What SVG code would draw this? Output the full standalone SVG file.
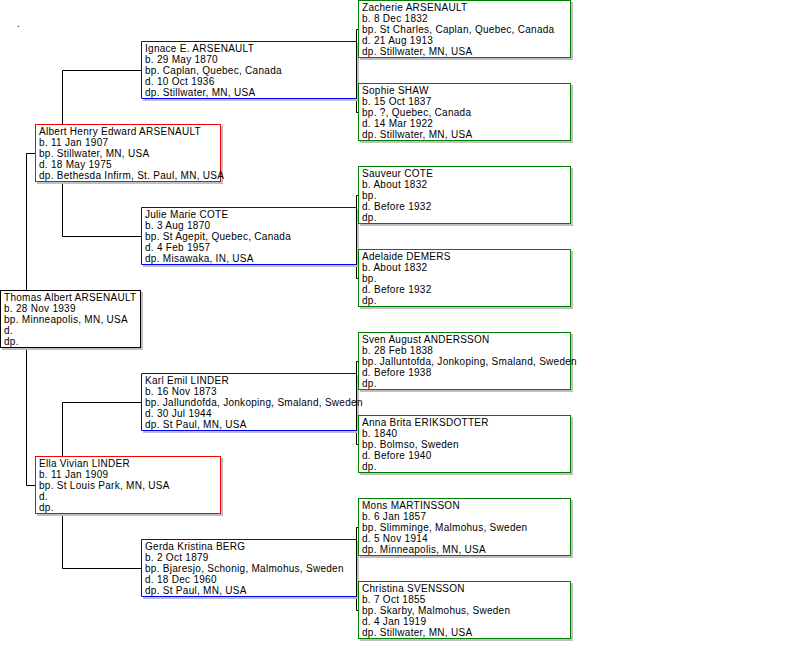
<svg xmlns="http://www.w3.org/2000/svg" width="800" height="660" viewBox="0 0 800 660">
<style>
  text { font-family: "Liberation Sans", Arial, sans-serif; font-size: 10px; letter-spacing: 0.28px; fill: #000; }
  .sh { fill: #c0c0c0; stroke: none; }
  .bg { fill: #fff; stroke: none; }
  .root { fill: #fff; stroke: #000; stroke-width: 1; }
  .g1 { fill: #fff; stroke: #ff0000; stroke-width: 1; }
  .g2 { fill: none; stroke: #0000ff; stroke-width: 1; }
  .g3 { fill: #fff; stroke: #008000; stroke-width: 1; }
  .conn { fill: none; stroke: #000; stroke-width: 1; }
</style>
<rect x="0" y="0" width="800" height="660" fill="#fff"/>
<text x="17" y="26.5">.</text>

<g id="connectors">
  <path class="conn" d="M35,153.5 H26.5 V485.5 H35"/>
  <path class="conn" d="M141,70.5 H62.5 V236.5 H141"/>
  <path class="conn" d="M141,402.5 H62.5 V568.5 H141"/>
  <path class="conn" d="M358,29.5 H356.5 V112.5 H358"/>
  <path class="conn" d="M358,195.5 H356.5 V278.5 H358"/>
  <path class="conn" d="M358,361.5 H356.5 V444.5 H358"/>
  <path class="conn" d="M358,527.5 H356.5 V610.5 H358"/>
</g>

<!-- Root -->
<g id="thomas">
  <polygon class="sh" points="141,292 143,292 143,350 2,350 2,348 141,348"/>
  <rect class="root" x="0.5" y="290.5" width="140" height="57"/>
  <text x="4"><tspan x="4" y="301">Thomas Albert ARSENAULT</tspan><tspan x="4" y="312">b. 28 Nov 1939</tspan><tspan x="4" y="323">bp. Minneapolis, MN, USA</tspan><tspan x="4" y="334">d.</tspan><tspan x="4" y="345">dp.</tspan></text>
</g>

<!-- Generation 1 -->
<g id="albert">
  <polygon class="sh" points="221,126 223,126 223,184 37,184 37,182 221,182"/>
  <rect class="g1" x="35.5" y="124.5" width="185" height="57"/>
  <text><tspan x="39" y="135">Albert Henry Edward ARSENAULT</tspan><tspan x="39" y="146">b. 11 Jan 1907</tspan><tspan x="39" y="157">bp. Stillwater, MN, USA</tspan><tspan x="39" y="168">d. 18 May 1975</tspan><tspan x="39" y="179">dp. Bethesda Infirm, St. Paul, MN, USA</tspan></text>
</g>
<g id="ella">
  <polygon class="sh" points="221,458 223,458 223,516 37,516 37,514 221,514"/>
  <rect class="g1" x="35.5" y="456.5" width="185" height="57"/>
  <text><tspan x="39" y="467">Ella Vivian LINDER</tspan><tspan x="39" y="478">b. 11 Jan 1909</tspan><tspan x="39" y="489">bp. St Louis Park, MN, USA</tspan><tspan x="39" y="500">d.</tspan><tspan x="39" y="511">dp.</tspan></text>
</g>

<!-- Generation 2 -->
<g id="ignace">
  <polygon class="sh" points="357,43 359,43 359,101 143,101 143,99 357,99"/>
  <rect class="bg" x="142" y="42" width="214" height="56"/>
  <path class="g2" d="M356,41.5 H141.5 V98.5 H356"/>
  <text><tspan x="145" y="52">Ignace E. ARSENAULT</tspan><tspan x="145" y="63">b. 29 May 1870</tspan><tspan x="145" y="74">bp. Caplan, Quebec, Canada</tspan><tspan x="145" y="85">d. 10 Oct 1936</tspan><tspan x="145" y="96">dp. Stillwater, MN, USA</tspan></text>
</g>
<g id="julie">
  <polygon class="sh" points="357,209 359,209 359,267 143,267 143,265 357,265"/>
  <rect class="bg" x="142" y="208" width="214" height="56"/>
  <path class="g2" d="M356,207.5 H141.5 V264.5 H356"/>
  <text><tspan x="145" y="218">Julie Marie COTE</tspan><tspan x="145" y="229">b. 3 Aug 1870</tspan><tspan x="145" y="240">bp. St Agepit, Quebec, Canada</tspan><tspan x="145" y="251">d. 4 Feb 1957</tspan><tspan x="145" y="262">dp. Misawaka, IN, USA</tspan></text>
</g>
<g id="karl">
  <polygon class="sh" points="357,375 359,375 359,433 143,433 143,431 357,431"/>
  <rect class="bg" x="142" y="374" width="214" height="56"/>
  <path class="g2" d="M356,373.5 H141.5 V430.5 H356"/>
  <text><tspan x="145" y="384">Karl Emil LINDER</tspan><tspan x="145" y="395">b. 16 Nov 1873</tspan><tspan x="145" y="406">bp. Jallundofda, Jonkoping, Smaland, Sweden</tspan><tspan x="145" y="417">d. 30 Jul 1944</tspan><tspan x="145" y="428">dp. St Paul, MN, USA</tspan></text>
</g>
<g id="gerda">
  <polygon class="sh" points="357,541 359,541 359,599 143,599 143,597 357,597"/>
  <rect class="bg" x="142" y="540" width="214" height="56"/>
  <path class="g2" d="M356,539.5 H141.5 V596.5 H356"/>
  <text><tspan x="145" y="550">Gerda Kristina BERG</tspan><tspan x="145" y="561">b. 2 Oct 1879</tspan><tspan x="145" y="572">bp. Bjaresjo, Schonig, Malmohus, Sweden</tspan><tspan x="145" y="583">d. 18 Dec 1960</tspan><tspan x="145" y="594">dp. St Paul, MN, USA</tspan></text>
</g>

<!-- Generation 3 -->
<g id="zacherie">
  <polygon class="sh" points="571,2 573,2 573,60 360,60 360,58 571,58"/>
  <rect class="g3" x="358.5" y="0.5" width="212" height="57"/>
  <text><tspan x="362" y="11">Zacherie ARSENAULT</tspan><tspan x="362" y="22">b. 8 Dec 1832</tspan><tspan x="362" y="33">bp. St Charles, Caplan, Quebec, Canada</tspan><tspan x="362" y="44">d. 21 Aug 1913</tspan><tspan x="362" y="55">dp. Stillwater, MN, USA</tspan></text>
</g>
<g id="sophie">
  <polygon class="sh" points="571,85 573,85 573,143 360,143 360,141 571,141"/>
  <rect class="g3" x="358.5" y="83.5" width="212" height="57"/>
  <text><tspan x="362" y="94">Sophie SHAW</tspan><tspan x="362" y="105">b. 15 Oct 1837</tspan><tspan x="362" y="116">bp. ?, Quebec, Canada</tspan><tspan x="362" y="127">d. 14 Mar 1922</tspan><tspan x="362" y="138">dp. Stillwater, MN, USA</tspan></text>
</g>
<g id="sauveur">
  <polygon class="sh" points="571,168 573,168 573,226 360,226 360,224 571,224"/>
  <rect class="g3" x="358.5" y="166.5" width="212" height="57"/>
  <text><tspan x="362" y="177">Sauveur COTE</tspan><tspan x="362" y="188">b. About 1832</tspan><tspan x="362" y="199">bp.</tspan><tspan x="362" y="210">d. Before 1932</tspan><tspan x="362" y="221">dp.</tspan></text>
</g>
<g id="adelaide">
  <polygon class="sh" points="571,251 573,251 573,309 360,309 360,307 571,307"/>
  <rect class="g3" x="358.5" y="249.5" width="212" height="57"/>
  <text><tspan x="362" y="260">Adelaide DEMERS</tspan><tspan x="362" y="271">b. About 1832</tspan><tspan x="362" y="282">bp.</tspan><tspan x="362" y="293">d. Before 1932</tspan><tspan x="362" y="304">dp.</tspan></text>
</g>
<g id="sven">
  <polygon class="sh" points="571,334 573,334 573,392 360,392 360,390 571,390"/>
  <rect class="g3" x="358.5" y="332.5" width="212" height="57"/>
  <text><tspan x="362" y="343">Sven August ANDERSSON</tspan><tspan x="362" y="354">b. 28 Feb 1838</tspan><tspan x="362" y="365">bp. Jalluntofda, Jonkoping, Smaland, Sweden</tspan><tspan x="362" y="376">d. Before 1938</tspan><tspan x="362" y="387">dp.</tspan></text>
</g>
<g id="anna">
  <polygon class="sh" points="571,417 573,417 573,475 360,475 360,473 571,473"/>
  <rect class="g3" x="358.5" y="415.5" width="212" height="57"/>
  <text><tspan x="362" y="426">Anna Brita ERIKSDOTTER</tspan><tspan x="362" y="437">b. 1840</tspan><tspan x="362" y="448">bp. Bolmso, Sweden</tspan><tspan x="362" y="459">d. Before 1940</tspan><tspan x="362" y="470">dp.</tspan></text>
</g>
<g id="mons">
  <polygon class="sh" points="571,500 573,500 573,558 360,558 360,556 571,556"/>
  <rect class="g3" x="358.5" y="498.5" width="212" height="57"/>
  <text><tspan x="362" y="509">Mons MARTINSSON</tspan><tspan x="362" y="520">b. 6 Jan 1857</tspan><tspan x="362" y="531">bp. Slimminge, Malmohus, Sweden</tspan><tspan x="362" y="542">d. 5 Nov 1914</tspan><tspan x="362" y="553">dp. Minneapolis, MN, USA</tspan></text>
</g>
<g id="christina">
  <polygon class="sh" points="571,583 573,583 573,641 360,641 360,639 571,639"/>
  <rect class="g3" x="358.5" y="581.5" width="212" height="57"/>
  <text><tspan x="362" y="592">Christina SVENSSON</tspan><tspan x="362" y="603">b. 7 Oct 1855</tspan><tspan x="362" y="614">bp. Skarby, Malmohus, Sweden</tspan><tspan x="362" y="625">d. 4 Jan 1919</tspan><tspan x="362" y="636">dp. Stillwater, MN, USA</tspan></text>
</g>
</svg>
